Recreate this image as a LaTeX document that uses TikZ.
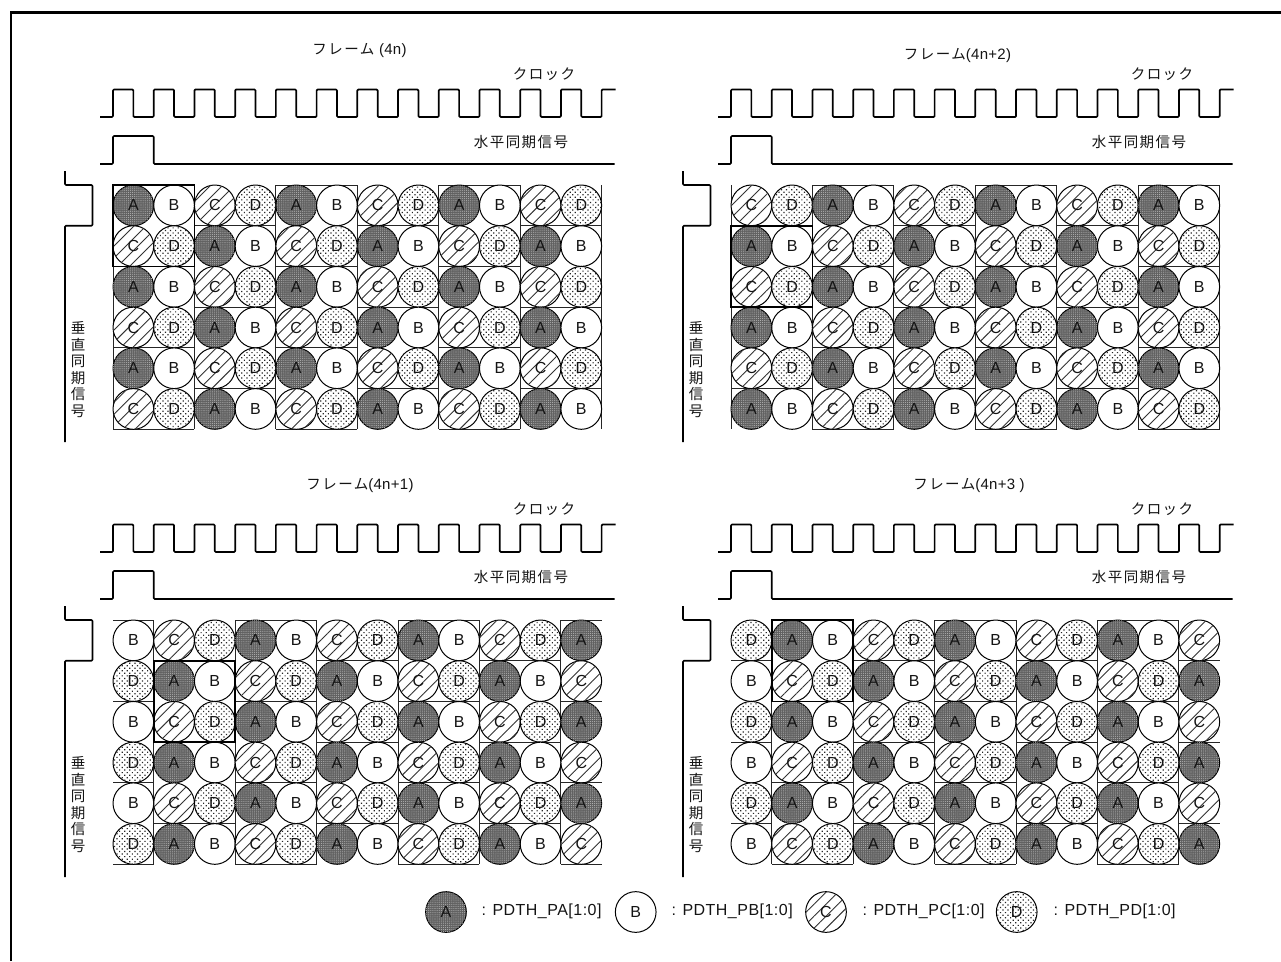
\documentclass[tikz,border=0pt]{standalone}
\usepackage{fontspec}
\setmainfont{Liberation Sans}
\newfontfamily\cjk[LetterSpace=10]{Noto Sans CJK JP}
\newfontfamily\ltn[LetterSpace=2]{Liberation Sans}
\newfontfamily\lgd[LetterSpace=3]{Liberation Sans}
\usetikzlibrary{patterns.meta}
\tikzset{
  every node/.style={inner sep=0pt,outer sep=0pt,text=black!92},
  wave/.style={draw=black,line width=1.7pt,line join=round,rounded corners=1pt},
  thinline/.style={draw=black!85,line width=0.9pt},
  boldbox/.style={draw=black,line width=1.7pt},
  cellc/.style={circle,minimum size=40.7pt,line width=1pt,draw=black,font=\fontsize{16}{16}\selectfont},
  labA/.style={cellc,preaction={fill=black!62},postaction={pattern={Dots[distance=2.1pt,radius=0.55pt,xshift=0.3pt]},pattern color=black!30}},
  labB/.style={cellc,fill=white},
  labC/.style={cellc,fill=white,postaction={pattern={Lines[angle=45,distance=8.5pt,line width=0.9pt]},pattern color=black!80}},
  labD/.style={cellc,fill=white,postaction={pattern={Dots[distance=3.6pt,radius=0.85pt,angle=45]},pattern color=black!85}},
  jp/.style={font=\fontsize{14.5}{15}\cjk},
  legendtxt/.style={anchor=west,font=\fontsize{16}{16}\lgd},
}
\newcommand{\panel}[9]{%
% #1 x0, #2 y0 (grid top), #3 col shift, #4 row shift, #5 draw outer edges
% #6 title, #7 title x, #8 title y, #9 name
\pgfmathsetmacro{\gx}{#1}
\pgfmathsetmacro{\gy}{#2}
\pgfmathsetmacro{\cs}{40.72}
\pgfmathsetmacro{\cklo}{\gy-68}
\pgfmathsetmacro{\ckhi}{\gy-95.5}
\pgfmathsetmacro{\sylo}{\gy-21}
\pgfmathsetmacro{\syhi}{\gy-49}
\gdef\wavepath{}
\foreach \k in {0,...,11}{
  \pgfmathsetmacro{\xa}{\gx+\k*\cs}
  \pgfmathsetmacro{\xb}{\gx+(\k+.5)*\cs}
  \xdef\wavepath{\wavepath -- (\xa,\cklo) -- (\xa,\ckhi) -- (\xb,\ckhi) -- (\xb,\cklo)}
}
\coordinate (#9ck0) at (\gx-13,\cklo);
\draw[wave] (#9ck0) \wavepath
  -- ({\gx+12*\cs},\cklo) -- ({\gx+12*\cs},\ckhi) -- ({\gx+12*\cs+14},\ckhi);
\draw[wave] (\gx-13,\sylo) -- (\gx,\sylo) -- (\gx,\syhi) -- (\gx+\cs,\syhi) -- (\gx+\cs,\sylo) -- ({\gx+12*\cs+13},\sylo);
% vsync
\draw[wave] (\gx-48,\gy-14) -- (\gx-48,\gy) -- (\gx-20.5,\gy) -- (\gx-20.5,\gy+\cs) -- (\gx-48,\gy+\cs) -- (\gx-48,\gy+257);
% grid lines
\foreach \c in {0,...,12}{
  \pgfmathtruncatemacro{\isb}{mod(\c+#3,2)==0 && (#5==1 || (\c>0 && \c<12))}
  \ifnum\isb=1 \draw[thinline] ({\gx+\c*\cs},\gy) -- ({\gx+\c*\cs},{\gy+6*\cs}); \fi
}
\foreach \c in {0,...,11}{
  \pgfmathtruncatemacro{\grp}{floor((\c+#3)/2)}
  \foreach \r in {0,...,6}{
    \pgfmathtruncatemacro{\on}{mod(\r+\grp+#4,2)==0}
    \ifnum\on=1 \draw[thinline] ({\gx+\c*\cs},{\gy+\r*\cs}) -- ({\gx+(\c+1)*\cs},{\gy+\r*\cs}); \fi
  }
}
% circles
\foreach \r in {0,...,5}{\foreach \c in {0,...,11}{
  \pgfmathtruncatemacro{\grp}{floor((\c+#3)/2)}
  \pgfmathtruncatemacro{\tr}{mod(\r+\grp+#4,2)}
  \pgfmathtruncatemacro{\tc}{mod(\c+#3,2)}
  \pgfmathtruncatemacro{\idx}{2*\tr+\tc}
  \ifcase\idx \def\lt{A}\or \def\lt{B}\or \def\lt{C}\or \def\lt{D}\fi
  \node[lab\lt] (#9c\r x\c) at ({\gx+(\c+.5)*\cs},{\gy+(\r+.5)*\cs}) {\lt};
}}
% bold tile
\pgfmathsetmacro{\bx}{\gx+#3*\cs}
\pgfmathsetmacro{\by}{\gy+mod(#3+#4,2)*\cs}
\draw[boldbox] (\bx,\by) rectangle (\bx+2*\cs,\by+2*\cs);
% texts
\node[jp] (#9t) at (#7,#8) {#6};
\node[jp] (#9k) at (\gx+431,\gy-111) {クロック};
\node[jp] (#9h) at (\gx+408,\gy-43) {水平同期信号};
\node[jp,align=center,font=\fontsize{14.5}{16.6}\selectfont\cjk] (#9v) at (\gx-35,\gy+184.5) {垂\\直\\同\\期\\信\\号};
}
\newcommand{\lat}[1]{{\fontsize{15}{15}\ltn #1}}
\begin{document}
\begin{tikzpicture}[x=1pt,y=-1pt]
\useasboundingbox (0,0) rectangle (1281,961);
\fill[white] (0,0) rectangle (1281,961);
\draw[black,line width=2.8pt] (11,961) -- (11,12.5) -- (1281,12.5);
\panel{113}{185}{0}{0}{1}{フレーム \lat{(4n)}}{359.5}{50}{pa}
\panel{731}{185}{0}{1}{1}{フレーム\lat{(4n+2)}}{957.5}{55}{pb}
\panel{113}{620}{1}{0}{0}{フレーム\lat{(4n+1)}}{360}{485}{pc}
\panel{731}{620}{1}{1}{0}{フレーム\lat{(4n+3 )}}{969}{485}{pd}
% legend
\node[labA] (la) at (446,912) {A};
\node[labB] (lb) at (635.7,912) {B};
\node[labC] (lc) at (826,912) {C};
\node[labD] (ld) at (1016.7,912) {D};
\node[legendtxt] (ta) at (481.5,911.5) {: PDTH\_PA[1:0]};
\node[legendtxt] (tb) at (671.5,911.5) {: PDTH\_PB[1:0]};
\node[legendtxt] (tc) at (862.5,911.5) {: PDTH\_PC[1:0]};
\node[legendtxt] (td) at (1053.5,911.5) {: PDTH\_PD[1:0]};
\end{tikzpicture}
\end{document}
